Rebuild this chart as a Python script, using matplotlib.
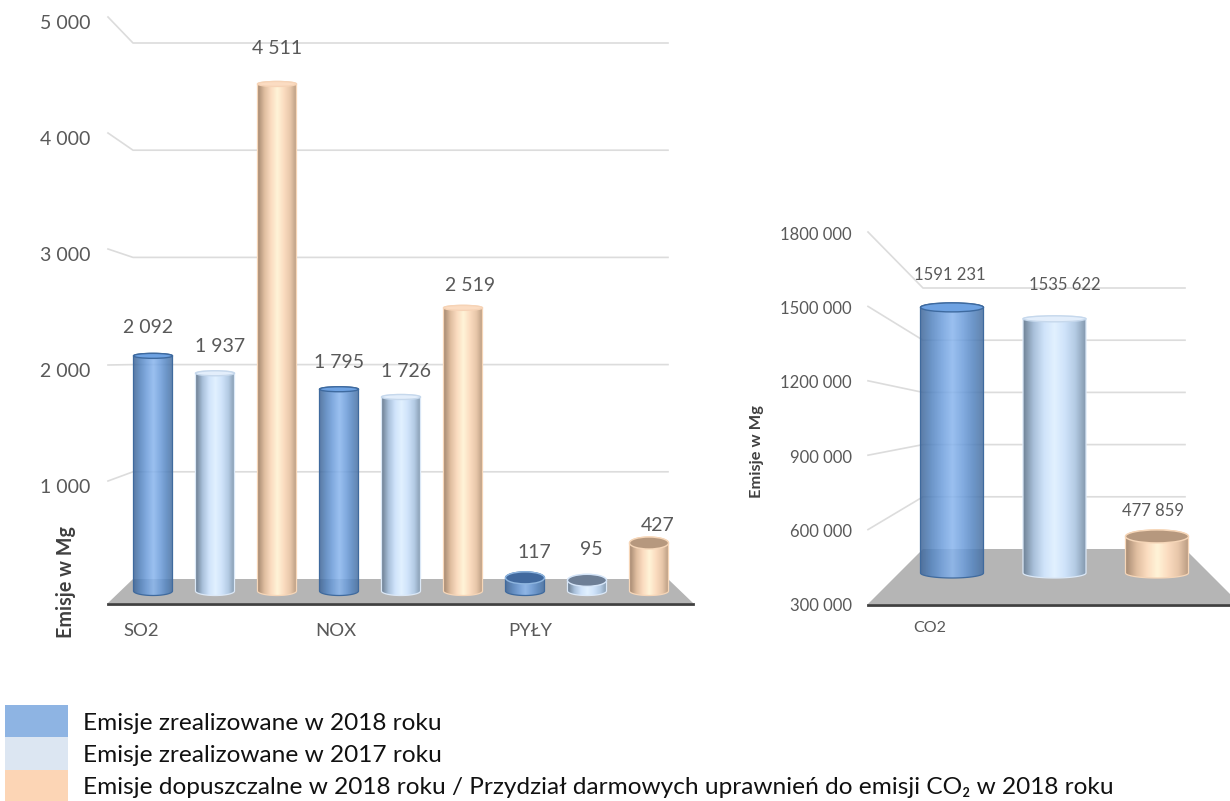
import numpy as np
import matplotlib
matplotlib.use("Agg")
import matplotlib.pyplot as plt
from matplotlib.colors import LinearSegmentedColormap
from matplotlib.lines import Line2D
from matplotlib.patches import Ellipse, Polygon, Rectangle
from matplotlib.transforms import Affine2D

plt.rcParams['font.family'] = ['Lato', 'DejaVu Sans']

# dane - wykres lewy
left_cats = ["SO2", "NOX", "PYŁY"]
left_values = [2092, 1937, 4511, 1795, 1726, 2519, 117, 95, 427]
left_labels = ["2 092", "1 937", "4 511", "1 795", "1 726", "2 519", "117", "95", "427"]
left_series = [0, 1, 2, 0, 1, 2, 0, 1, 2]
left_ticks = [1000, 2000, 3000, 4000, 5000]
left_ticklabels = ["1 000", "2 000", "3 000", "4 000", "5 000"]

# dane - wykres prawy
right_cats = ["CO2"]
right_values = [1591231, 1535622, 477859]
right_labels = ["1591 231", "1535 622", "477 859"]
right_series = [0, 1, 2]
right_ticks = [600000, 900000, 1200000, 1500000, 1800000]
right_ticklabels = ["600 000", "900 000", "1200 000", "1500 000", "1800 000"]

legend_names = [
    "Emisje zrealizowane w 2018 roku",
    "Emisje zrealizowane w 2017 roku",
    "Emisje dopuszczalne w 2018 roku / Przydział darmowych uprawnień do emisji CO₂ w 2018 roku",
]
legend_colors = ["#8eb4e3", "#dce6f2", "#fcd5b5"]

# wyglad walcow
cmaps = [
    LinearSegmentedColormap.from_list("b", ["#41689a", "#5585c0", "#6f9fdc", "#8ab6ee", "#6f9fdc", "#5585c0", "#486f9f"]),
    LinearSegmentedColormap.from_list("l", ["#6f8296", "#a9c0da", "#cfe3fa", "#e2f1ff", "#cfe3fa", "#b4cbe4", "#8499ae"]),
    LinearSegmentedColormap.from_list("p", ["#a98c74", "#e0bea0", "#fbdcc0", "#fff4d8", "#fbdcc0", "#e8c7aa", "#b89a80"]),
]
cap_dark = [("#41699e", "#8fb6e0"), ("#6e7f96", "#d5e5f8"), ("#b6987e", "#f6d6b8")]
cap_pale = [("#6ea2e2", "#3e6a9f"), ("#e3eefb", "#c6d8ec"), ("#fbdcc2", "#f6d3b6")]
rim = ["#3f6a9e", "#dbe8f7", "#f6d6b8"]
alphas = [0.86, 1, 1]

W, H = 1230, 801
fig = plt.figure(figsize=(W / 100, H / 100), dpi=100, facecolor="white")
PX = Affine2D().scale(1, -1).translate(0, H)  # wspolrzedne w pikselach obrazka


def decor(x_front, x_back, x_right, x_floor_end, y_floor, y_back0, k_front, k_back, y_left0, ticks, base,
          x_label, tick_fs, ticklabels, label_dy):
    # podloga
    fig.add_artist(Polygon([(x_front, y_floor), (x_back, y_back0), (x_right, y_back0), (x_floor_end, y_floor)],
                           closed=True, fc="#b5b5b5", ec="none", transform=PX, zorder=1))
    fig.add_artist(Line2D([x_front, min(x_floor_end, W)], [y_floor + 1, y_floor + 1], color="#404040", lw=2,
                          transform=PX, zorder=2))
    for t, lab in zip(ticks, ticklabels):
        yf = y_left0 - (t - base) * k_front
        yb = y_back0 - (t - base) * k_back
        fig.add_artist(Line2D([x_front, x_back, x_right], [yf, yb, yb], color="#dcdcdc", lw=1.2,
                              transform=PX, zorder=1))
        fig.text(x_label, yf + label_dy, lab, transform=PX, ha="right", va="center", fontsize=tick_fs, color="#595959")


def cylinders(ax, xs, values, series, base, width, k, caps, bottom_h):
    bars = ax.bar(xs, np.array(values) - base, bottom=base, width=width, color="none", zorder=2)
    t = np.linspace(0, np.pi, 40)
    for r, s, cap in zip(bars, series, caps):
        x0, w = r.get_x(), r.get_width()
        cx = x0 + w / 2
        y0, y1 = r.get_y(), r.get_y() + r.get_height()
        low = np.column_stack([cx - w / 2 * np.cos(t), y0 - bottom_h / k * np.sin(t)])
        high = np.column_stack([cx + w / 2 * np.cos(t), y1 + cap / 2 / k * np.sin(t)])
        shape = Polygon(np.vstack([low, high]), closed=True, fc="none", ec=rim[s], lw=0.9, zorder=3.2)
        ax.add_patch(shape)
        grad = np.linspace(0, 1, 128).reshape(1, -1)
        im = ax.imshow(grad, cmap=cmaps[s], extent=[x0, x0 + w, y0 - bottom_h / k, y1 + cap / k], aspect="auto",
                       alpha=alphas[s], zorder=3)
        im.set_clip_path(shape)
        fc, ec = cap_dark[s] if cap >= 11 else cap_pale[s]
        ax.add_patch(Ellipse((cx, y1), w, cap / k, fc=fc, ec=ec, lw=1.0, zorder=4))


def setup_axes(x0, x1, y0, y1, x_at, dx, y_at, k, base):
    ax = fig.add_axes([x0 / W, 1 - y1 / H, (x1 - x0) / W, (y1 - y0) / H], zorder=5)
    ax.patch.set_alpha(0)
    ax.axis("off")
    ax._lims = (((x0 - x_at) / dx, (x1 - x_at) / dx), (base + (y_at - y1) / k, base + (y_at - y0) / k))
    return ax


# wykres lewy
k_l = 0.1124
decor(108, 133, 668, 693, 603, 579, 0.116, 0.1072, 597, left_ticks, 0, 90, 14, left_ticklabels, 6.5)
ax1 = setup_axes(100, 700, 0, 625, 153, 62, 591, k_l, 0)
cylinders(ax1, np.arange(9), left_values, left_series, 0, 39 / 62, k_l, [5, 5, 5, 5, 5, 5, 12, 12, 12], 4.5)
ax1.set_xlim(*ax1._lims[0])
ax1.set_ylim(*ax1._lims[1])
left_off = [(-5, 28), (5, 27), (0, 35), (0, 27), (5, 25), (7, 22), (9, 25), (4, 31), (9, 18)]
for i, (v, lab, off) in enumerate(zip(left_values, left_labels, left_off)):
    ax1.annotate(lab, (i, v), xytext=off, textcoords="offset pixels", ha="center", va="center",
                 fontsize=14, color="#595959", zorder=6)

# wykres prawy
k_r = 0.0002057
decor(868, 923, 1185, 1240, 604, 549, 0.000248, 0.000174, 604, right_ticks, 300000, 852, 12, right_ticklabels, 2.5)
fig.text(852, 606, "300 000", transform=PX, ha="right", va="center", fontsize=12, color="#595959")
ax2 = setup_axes(860, 1230, 200, 625, 952, 102.5, 573, k_r, 300000)
cylinders(ax2, np.arange(3), right_values, right_series, 300000, 63 / 102.5, k_r, [9, 6, 13], 5)
ax2.set_xlim(*ax2._lims[0])
ax2.set_ylim(*ax2._lims[1])
right_off = [(-2, 32), (10, 34), (-4, 25)]
for i, (v, lab, off) in enumerate(zip(right_values, right_labels, right_off)):
    ax2.annotate(lab, (i, v), xytext=off, textcoords="offset pixels", ha="center", va="center",
                 fontsize=12, color="#595959", zorder=6)

# opisy
fig.text(66, 582, "Emisje w Mg", transform=PX, rotation=90, ha="center", va="center",
         fontsize=14.2, fontweight="bold", color="#404040")
fig.text(757, 452, "Emisje w Mg", transform=PX, rotation=90, ha="center", va="center",
         fontsize=11.8, fontweight="bold", color="#404040")
for lab, x in zip(left_cats, [141, 336, 530]):
    fig.text(x, 631, lab, transform=PX, ha="center", va="center", fontsize=13.3, color="#595959")
for lab, x in zip(right_cats, [930]):
    fig.text(x, 628, lab, transform=PX, ha="center", va="center", fontsize=11.5, color="#595959")

# legenda
for i, (name, col) in enumerate(zip(legend_names, legend_colors)):
    y = 705 + i * 32.3
    fig.add_artist(Rectangle((5, y), 63, 32.5, fc=col, ec="none", transform=PX))
    fig.text(83, y + 18, name, transform=PX, ha="left", va="center", fontsize=17.6, color="#111111")

fig.savefig("out.png", dpi=100)
